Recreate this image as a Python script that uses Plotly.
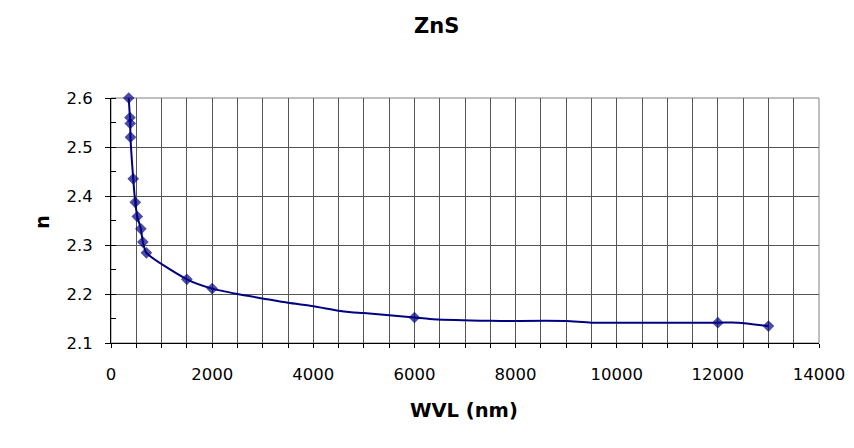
import plotly.graph_objects as go

# Wavelength (nm) and refractive index n of ZnS
wvl = [350, 375, 380, 385, 440, 480, 520, 590, 630, 700, 1500, 2000,
       2500, 3000, 3500, 4000, 4500, 4750, 5000, 6000, 6300, 7300, 7700,
       9000, 9500, 12000, 12400, 13000]
n_idx = [2.600, 2.560, 2.548, 2.520, 2.435, 2.387, 2.358, 2.333, 2.306, 2.284,
         2.230, 2.211,
         2.200, 2.191, 2.182, 2.175, 2.166, 2.163, 2.161, 2.152, 2.149, 2.1455,
         2.145, 2.1449, 2.1415, 2.1415, 2.1415, 2.1345]
# 1 = point shown with a marker, 0 = line-only point
marked = [1, 1, 1, 1, 1, 1, 1, 1, 1, 1, 1, 1,
          0, 0, 0, 0, 0, 0, 0, 1, 0, 0, 0, 0, 0, 1, 0, 1]

title_text = "ZnS"
x_title = "WVL (nm)"
y_title = "n"

navy = "#000080"
font_fam = "DejaVu Sans, Arial, sans-serif"

fig = go.Figure()
fig.add_trace(go.Scatter(
    x=wvl, y=n_idx, mode="lines+markers",
    line=dict(color=navy, width=2, shape="spline", smoothing=0.6),
    marker=dict(symbol="diamond", color=navy,
                size=[9 if m else 0 for m in marked], line=dict(width=0)),
    showlegend=False, cliponaxis=False,
))

grid_col = "#555555"
# page adds an 8px body margin, so margins are compensated
fig.update_layout(
    width=854, height=448,
    margin=dict(l=103, r=43, t=90, b=113, autoexpand=False),
    paper_bgcolor="white", plot_bgcolor="white",
    font=dict(family=font_fam, size=16.5, color="black"),
    xaxis=dict(range=[0, 14000], dtick=2000, tick0=0, tickformat="d",
               automargin=False,
               showgrid=True, gridcolor=grid_col, gridwidth=1,
               showline=True, linecolor="black", linewidth=1,
               ticks="outside", ticklen=4, tickcolor="black",
               ticklabelstandoff=12,
               minor=dict(dtick=500, showgrid=True, gridcolor=grid_col,
                          gridwidth=1, ticks="outside", ticklen=4,
                          tickcolor="black"),
               zeroline=False),
    yaxis=dict(range=[2.1, 2.6], dtick=0.1, tick0=2.1, tickformat=".1f",
               automargin=False,
               showgrid=True, gridcolor=grid_col, gridwidth=1,
               showline=True, linecolor="black", linewidth=1,
               ticks="outside", ticklen=5, tickcolor="black",
               ticklabelstandoff=9,
               minor=dict(dtick=0.05, showgrid=False, ticks="inside",
                          ticklen=5, tickcolor="black"),
               zeroline=False),
    shapes=[dict(type="rect", xref="paper", yref="paper", x0=0, x1=1, y0=0, y1=1,
                 line=dict(color="#808080", width=1), layer="below")],
    annotations=[
        dict(text="<b>" + title_text + "</b>", xref="paper", yref="paper",
             x=(436 - 111) / 708, y=(343 - 26) / 245, xanchor="center",
             yanchor="middle", showarrow=False, font=dict(size=21)),
        dict(text="<b>" + x_title + "</b>", xref="paper", yref="paper",
             x=(464 - 111) / 708, y=(343 - 410) / 245, xanchor="center",
             yanchor="middle", showarrow=False, font=dict(size=19.5)),
        dict(text="<b>" + y_title + "</b>", xref="paper", yref="paper",
             x=(42 - 111) / 708, y=(343 - 222) / 245, xanchor="center",
             yanchor="middle", showarrow=False, textangle=-90,
             font=dict(size=19.5)),
    ],
)

fig.write_html("out.html")
